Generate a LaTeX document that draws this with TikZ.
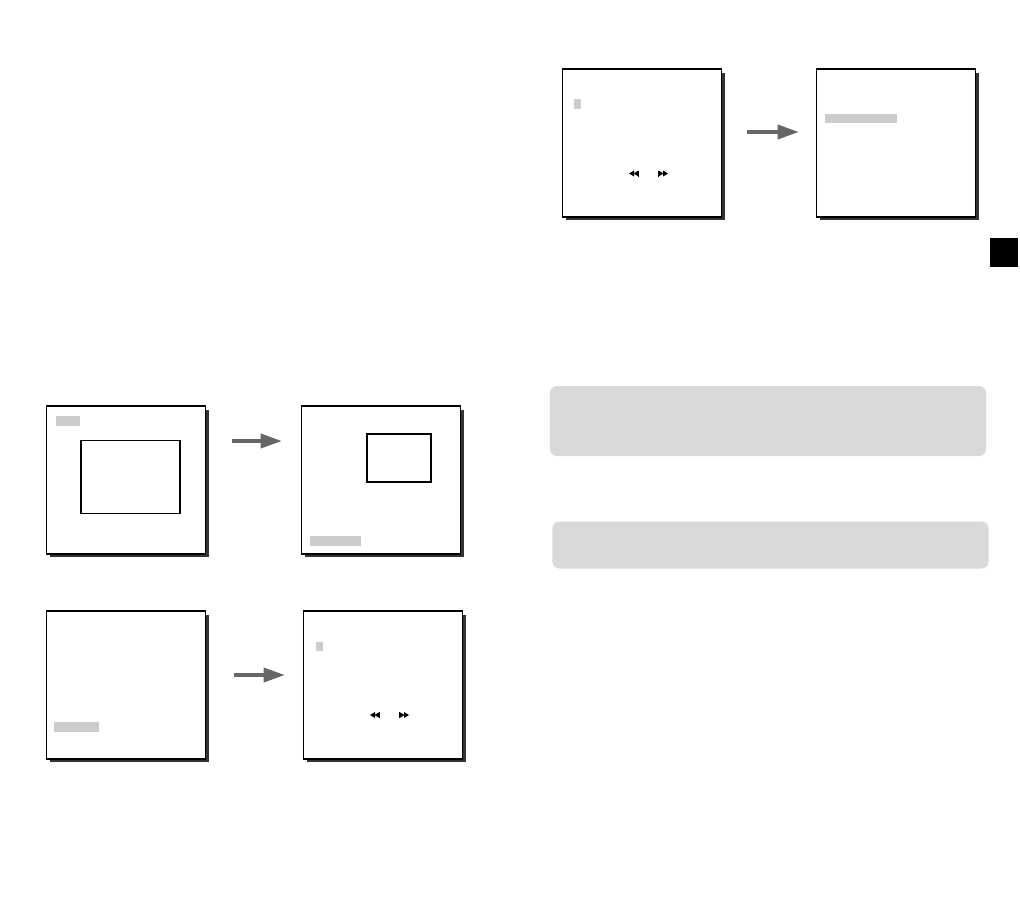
\documentclass[tikz,border=0pt]{standalone}
\usepackage{tikz}
\usetikzlibrary{positioning, arrows.meta, shadows}
\definecolor{hlgray}{HTML}{CCCCCC}
\definecolor{panelgray}{HTML}{D9D9D9}
\definecolor{shadowgray}{HTML}{333333}
\definecolor{arrowgray}{HTML}{666666}

\begin{document}
\begin{tikzpicture}[x=0.02cm, y=-0.02cm,
    screen/.style={draw, line width=1.1pt, fill=white, minimum width=3.18cm, minimum height=2.96cm,
      inner sep=0pt, drop shadow={shadow xshift=0.07cm, shadow yshift=-0.07cm, fill=shadowgray, opacity=1}},
    window/.style={draw, line width=1.1pt, inner sep=0pt},
    hilite/.style={fill=hlgray, inner sep=0pt},
    panel/.style={fill=panelgray, rounded corners=4pt, inner sep=0pt, minimum width=8.73cm},
    navarrow/.style={arrowgray, line width=2.8pt, -{Triangle[length=0.44cm, width=0.27cm]}}
  ]
      \useasboundingbox (0,0) rectangle (1020,906);

      % screens
      \node[screen] (s1) at (642,143) {};
      \node[screen] (s2) at (896,143) {};
      \node[screen] (s3) at (126,480) {};
      \node[screen] (s4) at (381,480) {};
      \node[screen] (s5) at (126,685) {};
      \node[screen] (s6) at (383,685) {};

      % menu highlights
      \node[hilite, minimum width=0.14cm, minimum height=0.2cm] (h1) at (577.5,104) {};
      \node[hilite, minimum width=1.44cm, minimum height=0.18cm] (h2) at (861,118.5) {};
      \node[hilite, minimum width=0.48cm, minimum height=0.2cm] (h3) at (68,421) {};
      \node[hilite, minimum width=1.02cm, minimum height=0.19cm] (h4) at (335.5,541) {};
      \node[hilite, minimum width=0.9cm, minimum height=0.2cm] (h5) at (76.5,727) {};
      \node[hilite, minimum width=0.14cm, minimum height=0.18cm] (h6) at (319.5,646.5) {};

      % mask windows
      \node[window, minimum width=1.97cm, minimum height=1.46cm] (w3) at (130.5,477) {};
      \node[window, minimum width=1.27cm, minimum height=0.97cm] (w4) at (399,458) {};

      % rewind / forward marks
      \foreach \x/\y in {629/173.5, 370/715} {
        \fill (\x,\y) -- (\x+5,\y-3) -- (\x+5,\y+3) -- cycle;
        \fill (\x+4.5,\y) -- (\x+9.5,\y-3) -- (\x+9.5,\y+3) -- cycle;
        \fill (\x+9,\y-3) rectangle (\x+10,\y+3);
      }
      \foreach \x/\y in {668/173.5, 409/715} {
        \fill (\x,\y) -- (\x-5,\y-3) -- (\x-5,\y+3) -- cycle;
        \fill (\x-4.5,\y) -- (\x-9.5,\y-3) -- (\x-9.5,\y+3) -- cycle;
        \fill (\x-10,\y-3) rectangle (\x-9,\y+3);
      }

      % arrows
      \draw[navarrow, shorten <=0.5cm, shorten >=0.32cm] ([yshift=0.22cm]s1.east) -- ([yshift=0.22cm]s2.west);
      \draw[navarrow, shorten <=0.52cm, shorten >=0.36cm] ([yshift=0.78cm]s3.east) -- ([yshift=0.78cm]s4.west);
      \draw[navarrow, shorten <=0.56cm, shorten >=0.34cm] ([yshift=0.2cm]s5.east) -- ([yshift=0.2cm]s6.west);

      % note panels
      \node[panel, minimum height=1.4cm] (p1) at (768,421) {};
      \node[panel, minimum height=0.94cm] (p2) at (770.5,545) {};

      % tab mark
      \node[fill=black, minimum width=0.56cm, minimum height=0.58cm, inner sep=0pt] (tab) at (1004,252.5) {};
\end{tikzpicture}
\end{document}
